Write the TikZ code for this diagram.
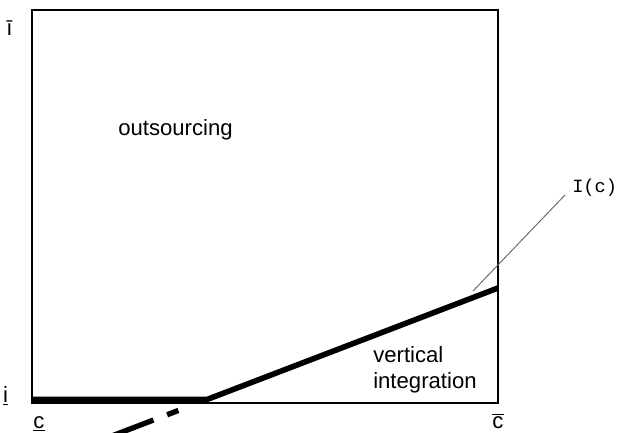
\documentclass[tikz,border=0pt]{standalone}
\usepackage{fontspec}
\setmainfont{Liberation Sans}
\newfontfamily\monof{Liberation Mono}
\newcommand\ovlx[1]{\ensuremath{\overline{\mbox{#1}}}}
\newcommand\unlx[1]{\ensuremath{\underline{\mbox{#1}}}}
\begin{document}
\begin{tikzpicture}[x=0.75pt,y=-0.75pt,
  lbl/.style={font=\fontsize{16.6}{19}\selectfont, inner sep=0pt},
  frame/.style={draw=black, line width=1.1pt},
  curve/.style={line width=4.2pt, line join=miter},
  leader/.style={draw=black!60, line width=0.7pt}]
\clip (0,0) rectangle (617,432);
\fill[white] (0,0) rectangle (617,432);
% frame
\coordinate (tl) at (32,10);
\coordinate (br) at (498,403);
\draw[frame] (tl) rectangle (br);
% I(c) curve
\coordinate (p0) at (32,399.5);
\coordinate (p1) at (207,399.5);
\coordinate (p2) at (498,288);
\coordinate (p3) at (100,440.5);
\draw[curve] (p0) -- (p1) -- (p2);
\draw[line width=4pt, dash pattern=on 0pt off 23pt on 9pt off 11pt on 60pt] (p1) -- (p3);
% leader
\coordinate (la) at (473,291);
\coordinate (lb) at (565,195);
\draw[leader] (la) -- (lb);
\node[font=\monof\fontsize{14}{16}\selectfont, anchor=west, inner sep=0pt] (ic) at (572,188) {I(c)};
% labels
\node[lbl, anchor=base west] (out) at (118,135) {outsourcing};
\node[lbl, anchor=base west] (v1) at (373,362) {vertical};
\node[lbl, anchor=base west] (v2) at (373,388) {integration};
\node[lbl, anchor=base] (ibar) at (9.5,35) {ī};
\node[lbl, anchor=base] (iund) at (5.5,402) {\unlx{i}};
\node[lbl, anchor=base] (cund) at (39,428) {\unlx{c}};
\node[lbl, anchor=base] (cbar) at (498,428) {\ovlx{c}};
\end{tikzpicture}
\end{document}
